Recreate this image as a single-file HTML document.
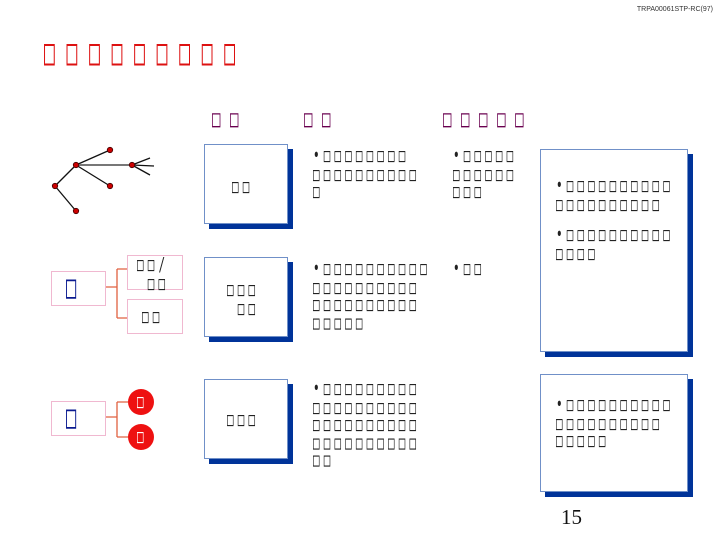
<!DOCTYPE html>
<html><head><meta charset="utf-8"><style>
body{margin:0;width:720px;height:540px;background:#fff;position:relative;overflow:hidden;font-family:"Liberation Sans",sans-serif}
.t{position:absolute;font-family:"DejaVu Sans Mono",monospace;white-space:pre;color:#222;font-size:11px;letter-spacing:4.1px;line-height:10.6px;transform:scaleY(1.7);transform-origin:0 0}
.box{position:absolute;background:#fff;border:1.5px solid #7090c8;box-shadow:5px 5px 0 #003399}
.pk{position:absolute;border:1.5px solid #f0b8d0;background:#fff}
</style></head><body>
<div style="position:absolute;right:7px;top:6px;font-size:7px;color:#333">TRPA00061STP-RC(97)</div>
<div class="t" style="left:44px;top:36px;font-size:18px;letter-spacing:11.7px;line-height:18px;color:#dd1111;transform:scaleY(2)">□□□□□□□□□</div>
<div class="t" style="left:212px;top:108px;font-size:14px;letter-spacing:9.6px;color:#6a0050;line-height:14px;transform:scaleY(1.7)">□□</div>
<div class="t" style="left:304px;top:108px;font-size:14px;letter-spacing:9.6px;color:#6a0050;line-height:14px;transform:scaleY(1.7)">□□</div>
<div class="t" style="left:443px;top:108px;font-size:14px;letter-spacing:9.6px;color:#6a0050;line-height:14px;transform:scaleY(1.7)">□□□□□</div>

<svg style="position:absolute;left:0;top:0" width="720" height="540">
<g stroke="#111" stroke-width="1.3">
<line x1="76" y1="165" x2="110" y2="150"/><line x1="76" y1="165" x2="110" y2="186"/>
<line x1="76" y1="165" x2="55" y2="186"/><line x1="55" y1="186" x2="76" y2="211"/>
<line x1="132" y1="165" x2="150" y2="158"/><line x1="132" y1="165" x2="154" y2="166"/><line x1="132" y1="165" x2="150" y2="175"/>
</g>
<line x1="76" y1="165" x2="132" y2="165" stroke="#777" stroke-width="2"/>
<g fill="#c00" stroke="#400" stroke-width="0.8">
<circle cx="76" cy="165" r="2.7"/><circle cx="110" cy="150" r="2.7"/><circle cx="110" cy="186" r="2.7"/>
<circle cx="55" cy="186" r="2.7"/><circle cx="76" cy="211" r="2.7"/><circle cx="132" cy="165" r="2.7"/>
</g>
<g stroke="#e06040" stroke-width="1.3" fill="none">
<path d="M105 287H117M117 269V318M117 269H127M117 318H127"/>
<path d="M105 417H117M117 402V437M117 402H128M117 437H128"/>
</g>
<circle cx="141" cy="402" r="13" fill="#ee1111"/><circle cx="141" cy="437" r="13" fill="#ee1111"/>
</svg>
<div class="t" style="left:137px;top:394px;color:#fff">□</div>
<div class="t" style="left:137px;top:429px;color:#fff">□</div>

<div class="pk" style="left:51px;top:271px;width:53px;height:33px"></div>
<div class="t" style="left:66px;top:273px;font-size:17px;color:#0a1a90;line-height:17px;transform:scaleY(1.9)">□</div>
<div class="pk" style="left:127px;top:255px;width:54px;height:33px"></div>
<div class="t" style="left:137px;top:257px">□□/
 □□</div>
<div class="pk" style="left:127px;top:299px;width:54px;height:33px"></div>
<div class="t" style="left:142px;top:309px">□□</div>
<div class="pk" style="left:51px;top:401px;width:53px;height:33px"></div>
<div class="t" style="left:66px;top:403px;font-size:17px;color:#0a1a90;line-height:17px;transform:scaleY(1.9)">□</div>

<div class="box" style="left:204px;top:144px;width:82px;height:78px"></div>
<div class="t" style="left:232px;top:179px">□□</div>
<div class="box" style="left:204px;top:257px;width:82px;height:78px"></div>
<div class="t" style="left:227px;top:282px">□□□
 □□</div>
<div class="box" style="left:204px;top:379px;width:82px;height:78px"></div>
<div class="t" style="left:227px;top:412px">□□□</div>

<div class="box" style="left:540px;top:149px;width:146px;height:201px"></div>
<div class="box" style="left:540px;top:374px;width:146px;height:116px"></div>

<div class="t" style="left:313px;top:148px">•□□□□□□□□
□□□□□□□□□□
□</div>
<div class="t" style="left:453px;top:148px">•□□□□□
□□□□□□
□□□</div>
<div class="t" style="left:556px;top:178px">•□□□□□□□□□□
□□□□□□□□□□</div>
<div class="t" style="left:556px;top:227px">•□□□□□□□□□□
□□□□</div>
<div class="t" style="left:313px;top:261px">•□□□□□□□□□□
□□□□□□□□□□
□□□□□□□□□□
□□□□□</div>
<div class="t" style="left:453px;top:261px">•□□</div>
<div class="t" style="left:313px;top:381px">•□□□□□□□□□
□□□□□□□□□□
□□□□□□□□□□
□□□□□□□□□□
□□</div>
<div class="t" style="left:556px;top:397px">•□□□□□□□□□□
□□□□□□□□□□
□□□□□</div>
<div style="position:absolute;left:561px;top:505px;font-family:'Liberation Serif',serif;font-size:21px;color:#111">15</div>
</body></html>
